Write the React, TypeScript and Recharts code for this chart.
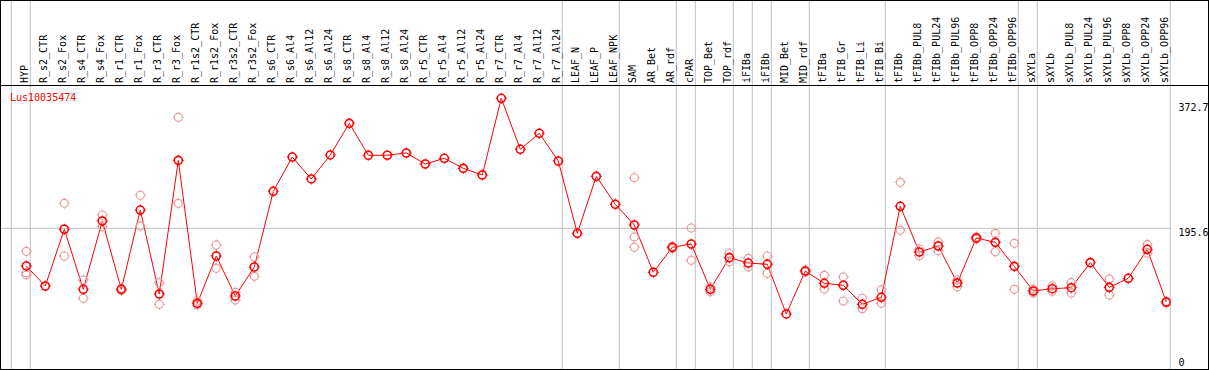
import React from "react";
import { ComposedChart, Line, XAxis, YAxis, ReferenceLine } from "recharts";

const seriesName = "Lus10035474";

const categories = [
  "HYP", "R_s2_CTR", "R_s2_Fox", "R_s4_CTR", "R_s4_Fox", "R_r1_CTR", "R_r1_Fox",
  "R_r3_CTR", "R_r3_Fox", "R_r1s2_CTR", "R_r1s2_Fox", "R_r3s2_CTR", "R_r3s2_Fox",
  "R_s6_CTR", "R_s6_Al4", "R_s6_Al12", "R_s6_Al24", "R_s8_CTR", "R_s8_Al4",
  "R_s8_Al12", "R_s8_Al24", "R_r5_CTR", "R_r5_Al4", "R_r5_Al12", "R_r5_Al24",
  "R_r7_CTR", "R_r7_Al4", "R_r7_Al12", "R_r7_Al24", "LEAF_N", "LEAF_P", "LEAF_NPK",
  "SAM", "AR_Bet", "AR_rdf", "cPAR", "TOP_Bet", "TOP_rdf", "iFIBa", "iFIBb",
  "MID_Bet", "MID_rdf", "tFIBa", "tFIB_Gr", "tFIB_Li", "tFIB_Bi", "tFIBb",
  "tFIBb_PUL8", "tFIBb_PUL24", "tFIBb_PUL96", "tFIBb_OPP8", "tFIBb_OPP24", "tFIBb_OPP96",
  "sXYLa", "sXYLb", "sXYLb_PUL8", "sXYLb_PUL24", "sXYLb_PUL96", "sXYLb_OPP8",
  "sXYLb_OPP24", "sXYLb_OPP96",
];

// mean expression per sample
const meanValues = [
  144.3, 117.0, 194.3, 112.5, 205.6, 112.5, 220.5, 106.1, 288.2, 93.4, 157.9, 103.4, 142.9,
  246.0, 292.7, 262.8, 295.5, 338.6, 295.1, 295.1, 298.2, 283.2, 291.0, 277.3, 268.2,
  372.7, 303.2, 325.0, 287.3, 188.8, 266.4, 228.3,
  200.1, 135.7, 169.7, 174.2, 112.5, 155.6, 148.3, 146.6, 78.9, 137.4,
  120.7, 118.0, 92.1, 101.6, 225.6, 163.3, 171.5, 121.1, 182.4, 176.5, 143.8,
  110.2, 113.3, 114.7, 148.8, 115.2, 127.5, 167.0, 95.2,
];

// replicates (null where not shown)
const repA = [
  164.3, null, 229.6, 125.2, 213.7, 114.0, 240.6, 121.5, 346.8, 96.6, 172.9, 108.4, 156.5,
  null, null, null, null, null, null, null, null, null, null, null, null,
  null, null, null, null, null, null, null,
  264.5, null, 171.0, 196.0, 115.6, 161.6, 154.7, 157.9, null, 138.5,
  131.6, 129.3, 100.3, 111.6, 258.3, 167.4, 177.0, 125.2, 184.0, 188.8, 175.2,
  112.9, 117.0, 121.5, null, 126.5, null, 173.3, 96.0,
];

const repB = [
  135.1, null, 157.9, 100.3, 197.8, 111.0, 198.7, 92.1, 229.7, 91.1, 141.1, 97.9, 130.2,
  null, null, null, null, null, null, null, null, null, null, null, null,
  null, null, null, null, null, null, null,
  183.8, null, 168.0, 152.0, 109.2, 150.1, 143.3, 134.3, null, 136.0,
  112.9, 96.6, 86.1, 93.4, 192.9, 158.3, 164.7, 116.1, 181.0, 163.7, 112.5,
  107.5, 109.8, 107.5, null, 104.8, null, 161.6, 94.0,
];

const repC = [
  132.0, null, null, null, null, null, null, null, null, null, null, null, null,
  null, null, null, null, null, null, null, null, null, null, null, null,
  null, null, null, null, null, null, null,
  169.7, null, null, null, null, null, null, null, null, null,
  null, null, null, null, null, null, null, null, null, null, null,
  null, null, null, null, null, null, null, null,
];

const yTicks = [372.7, 195.6, 0];
const tickDy = [12.4, 7.4, -6.4];

// index of last sample in each group (-1 = left edge)
const groupEnds = [-1, 0, 28, 31, 34, 35, 37, 38, 39, 41, 45, 52, 53, 60];

const data = categories.map((name, i) => ({
  idx: i,
  name,
  mean: meanValues[i],
  a: repA[i],
  b: repB[i],
  c: repC[i],
}));

const FONT = "'DejaVu Sans Mono', monospace";
const RED = "#ff0000";
const PINK = "#eb9c9c";
const GRID = "#c0c0c0";

function ring(color: string, sw: number) {
  return (props: any) => {
    const { cx, cy, value, index } = props;
    if (value == null || cy == null || Number.isNaN(cy)) return <g key={`n-${index}`} />;
    const r = 4;
    const d = `M${cx} ${cy - r - 1.5}v1.5M${cx} ${cy + r}v1.5M${cx - r - 1.5} ${cy}h1.5M${cx + r} ${cy}h1.5`;
    return (
      <g key={`d-${index}`}>
        <circle cx={cx} cy={cy} r={r} fill="none" stroke={color} strokeWidth={sw} />
        <path d={d} stroke={color} strokeWidth={1} />
      </g>
    );
  };
}

// chart is shifted up by 1px, so 84 here is 83 on the page
function HeaderTick(props: any) {
  const { x, payload } = props;
  const bx = x + 2;
  const by = 84;
  return (
    <text
      x={bx}
      y={by}
      transform={`rotate(-90 ${bx} ${by})`}
      textAnchor="start"
      fontFamily={FONT}
      fontSize={10}
      fill="#000"
    >
      {categories[payload.value]}
    </text>
  );
}

function ValueTick(props: any) {
  const { y, payload, index } = props;
  return (
    <text x={1178.5} y={y + tickDy[index]} fontFamily={FONT} fontSize={10} fill="#000">
      {payload.value}
    </text>
  );
}

export default function App() {
  return (
    <div style={{ position: "absolute", left: 0, top: 0, width: 1209, height: 370, background: "#fff", overflow: "hidden" }}>
      <div style={{ position: "absolute", left: 0, top: -1 }}>
        <ComposedChart width={1209} height={371} data={data} margin={{ top: 0, right: 0, bottom: 0, left: 0 }}>
          <XAxis
            dataKey="idx"
            type="number"
            orientation="top"
            height={1}
            domain={[-1.384, 60.232]}
            allowDataOverflow
            ticks={categories.map((_, i) => i)}
            interval={0}
            axisLine={false}
            tickLine={false}
            tick={<HeaderTick />}
          />
          <YAxis
            orientation="right"
            width={38.3}
            domain={[2.59, 506.6]}
            allowDataOverflow
            ticks={yTicks}
            interval={0}
            axisLine={false}
            tickLine={false}
            tick={<ValueTick />}
          />
          {groupEnds.map((g) => (
            <ReferenceLine key={`g${g}`} x={g + 0.21} stroke={GRID} strokeWidth={1} ifOverflow="visible" />
          ))}
          <ReferenceLine y={195.6} stroke={GRID} strokeWidth={1} />
          <Line dataKey="a" stroke="none" dot={ring(PINK, 1.2)} activeDot={false} isAnimationActive={false} />
          <Line dataKey="b" stroke="none" dot={ring(PINK, 1.2)} activeDot={false} isAnimationActive={false} />
          <Line dataKey="c" stroke="none" dot={ring(PINK, 1.2)} activeDot={false} isAnimationActive={false} />
          <Line
            dataKey="mean"
            type="linear"
            stroke={RED}
            strokeWidth={1}
            dot={ring(RED, 1.6)}
            activeDot={false}
            isAnimationActive={false}
          />
        </ComposedChart>
      </div>
      <svg
        width={1209}
        height={370}
        style={{ position: "absolute", left: 0, top: 0, pointerEvents: "none" }}
      >
        <rect x={0.5} y={0.5} width={1208} height={369} fill="none" stroke="#000" />
        <line x1={0} x2={1209} y1={85.5} y2={85.5} stroke="#000" />
        <text x={10} y={101} fontFamily={FONT} fontSize={10} fill={RED}>
          {seriesName}
        </text>
      </svg>
    </div>
  );
}
